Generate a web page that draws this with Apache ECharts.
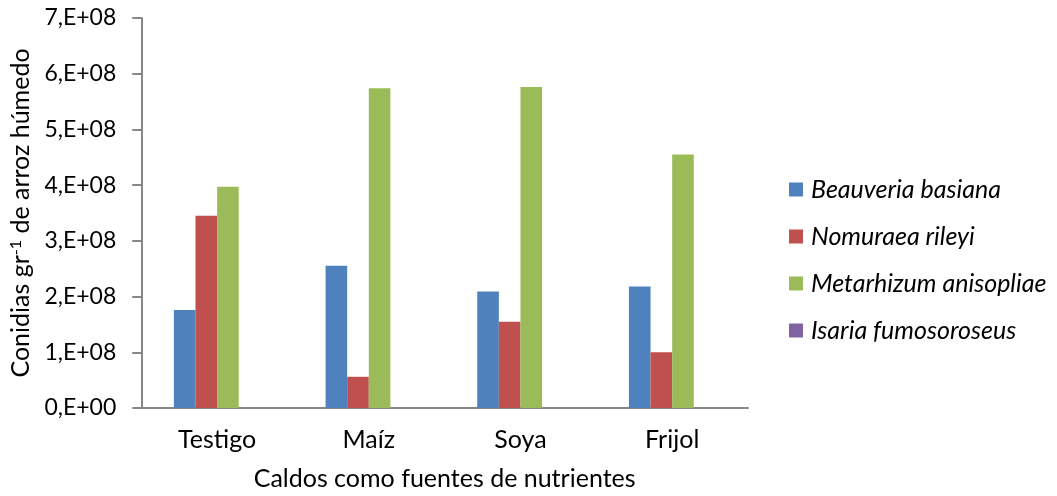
<!DOCTYPE html>
<html>
<head>
<meta charset="utf-8">
<script src="https://cdn.jsdelivr.net/npm/echarts@6/dist/echarts.min.js"></script>
<style>
html,body{margin:0;padding:0;background:#fff;}
#chart{width:1057px;height:496px;}
</style>
</head>
<body>
<div id="chart"></div>
<script>
var categories = ['Testigo', 'Maíz', 'Soya', 'Frijol'];
var seriesNames = ['Beauveria basiana', 'Nomuraea rileyi', 'Metarhizum anisopliae', 'Isaria fumosoroseus'];
var beauveria = [1.76e8, 2.555e8, 2.09e8, 2.18e8];
var nomuraea = [3.45e8, 0.56e8, 1.55e8, 1.0e8];
var metarhizum = [3.97e8, 5.74e8, 5.76e8, 4.55e8];
var isaria = [0, 0, 0, 0];
var colors = ['#4F81BD', '#C0504D', '#9BBB59', '#8064A2'];
var yMin = 0, yMax = 7e8, yInterval = 1e8;

var FONT = 'Lato';
var chart = echarts.init(document.getElementById('chart'));
var data = [beauveria, nomuraea, metarhizum, isaria];

function fmt(v) {
  if (v === 0) return '0,E+00';
  var e = Math.floor(Math.log10(v) + 1e-9);
  var m = Math.round(v / Math.pow(10, e));
  return m + ',E+' + (e < 10 ? '0' + e : e);
}

chart.setOption({
  animation: false,
  color: colors,
  textStyle: {fontFamily: FONT},
  grid: {left: 140, right: 309, top: 18, bottom: 86.5, containLabel: false},
  legend: {
    orient: 'vertical',
    left: 789,
    top: 177,
    padding: 0,
    itemWidth: 14,
    itemHeight: 14,
    itemGap: 22,
    icon: 'rect',
    textStyle: {fontFamily: FONT, fontSize: 25, fontStyle: 'italic', color: '#000', padding: [0, 0, 0, 3]},
    data: seriesNames
  },
  xAxis: {
    type: 'category',
    data: categories,
    name: 'Caldos como fuentes de nutrientes',
    nameLocation: 'middle',
    nameGap: 58,
    nameTextStyle: {fontFamily: FONT, fontSize: 25, color: '#000'},
    axisLine: {lineStyle: {color: '#868686', width: 2}},
    axisTick: {show: false},
    axisLabel: {fontFamily: FONT, fontSize: 25, color: '#000', margin: 19}
  },
  yAxis: {
    type: 'value',
    min: yMin,
    max: yMax,
    interval: yInterval,
    name: 'Conidias gr{sup|-1} de arroz húmedo',
    nameLocation: 'middle',
    nameGap: 102,
    nameRotate: 90,
    nameTextStyle: {
      fontFamily: FONT, fontSize: 25, color: '#000',
      rich: {sup: {fontFamily: FONT, fontSize: 16, color: '#000', verticalAlign: 'top', padding: [0, 0, 10, 0]}}
    },
    splitLine: {show: false},
    axisLine: {show: true, lineStyle: {color: '#868686', width: 2}},
    axisTick: {show: true, length: 9, lineStyle: {color: '#868686', width: 2}},
    axisLabel: {fontFamily: FONT, fontSize: 23, color: '#000', margin: 25, formatter: fmt}
  },
  series: seriesNames.map(function (n, i) {
    return {
      name: n,
      type: 'bar',
      data: data[i],
      barGap: '0%',
      barCategoryGap: '43%',
      itemStyle: {color: colors[i]}
    };
  })
});
</script>
</body>
</html>
